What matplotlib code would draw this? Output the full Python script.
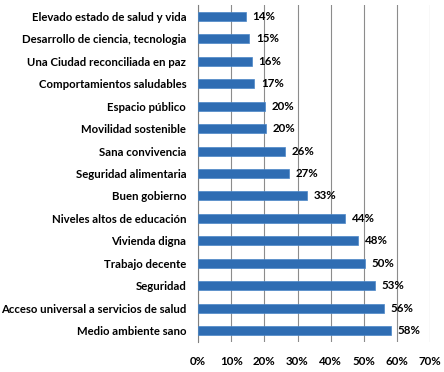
import numpy as np
import matplotlib.pyplot as plt

# data (top to bottom as shown)
categories = [
    'Elevado estado de salud y vida',
    'Desarrollo de ciencia, tecnologia',
    'Una Ciudad reconciliada en paz',
    'Comportamientos saludables',
    'Espacio público',
    'Movilidad sostenible',
    'Sana convivencia',
    'Seguridad alimentaria',
    'Buen gobierno',
    'Niveles altos de educación',
    'Vivienda digna',
    'Trabajo decente',
    'Seguridad',
    'Acceso universal a servicios de salud',
    'Medio ambiente sano',
]
values = [14.4, 15.4, 16.2, 16.9, 20.3, 20.4, 26.3, 27.4, 32.8, 44.3, 48.2, 50.2, 53.3, 56.0, 58.1]
tick_labels = ['0%', '10%', '20%', '30%', '40%', '50%', '60%', '70%']

plt.rcParams['font.family'] = ['Lato', 'DejaVu Sans']

fig = plt.figure(figsize=(4.44, 3.72), dpi=100)
ax = fig.add_axes([0.446, 0.081, 0.523, 0.905])

y = np.arange(len(categories))
ax.barh(y, values, height=0.4, color='#2f6db3', edgecolor='#4a86c8', linewidth=0.5, zorder=3)

for yi, v in zip(y, values):
    ax.text(v + 2.0, yi, f'{v:.0f}%', va='center', ha='left', fontsize=8.3, fontweight='bold', zorder=4)

ax.set_ylim(len(categories) - 0.5, -0.5)
ax.set_yticks(y)
ax.set_yticklabels(categories, fontsize=8.2, fontweight='bold')
ax.set_xlim(0, 70)
ax.set_xticks(np.arange(0, 71, 10))
ax.set_xticklabels(tick_labels, fontsize=8.3, fontweight='bold')
ax.tick_params(axis='y', length=0, pad=8.5)
ax.tick_params(axis='x', length=0, pad=10)

ax.grid(axis='x', color='#8c8c8c', linewidth=0.8, zorder=0)
for s in ['top', 'right', 'bottom']:
    ax.spines[s].set_visible(False)
ax.spines['left'].set_color('#808080')
ax.spines['left'].set_linewidth(0.8)

fig.savefig('out.png', dpi=100)
